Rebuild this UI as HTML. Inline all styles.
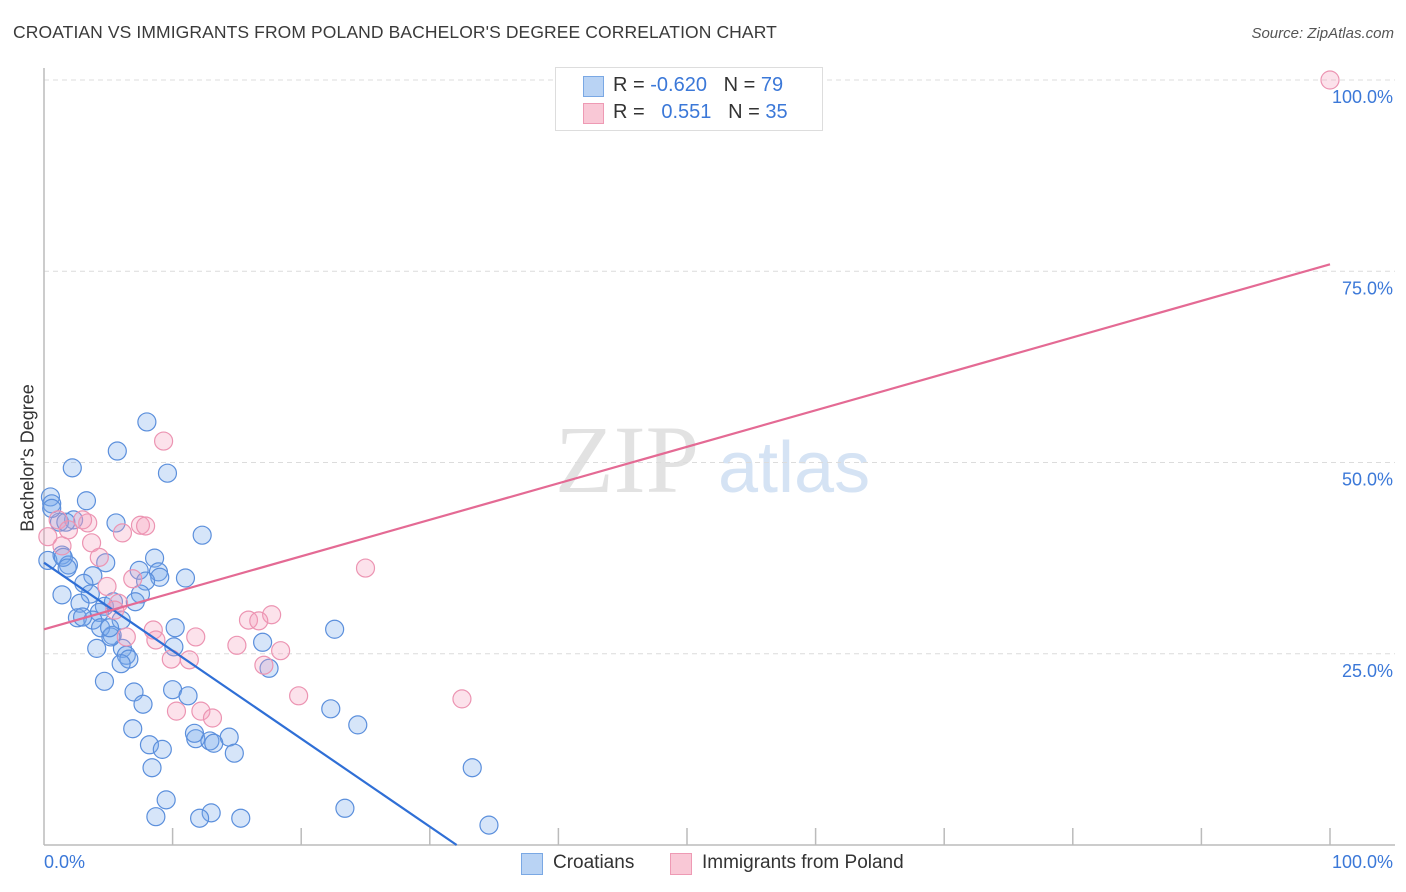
<!DOCTYPE html>
<html><head><meta charset="utf-8">
<style>
body{margin:0;background:#fff;font-family:"Liberation Sans",sans-serif;}
#wrap{position:relative;width:1406px;height:892px;overflow:hidden;}
.t{position:absolute;white-space:nowrap;}
</style></head>
<body>
<div id="wrap">
<div class="t" style="left:13px;top:22px;font-size:17.5px;color:#3a3a3a;letter-spacing:0.1px">CROATIAN VS IMMIGRANTS FROM POLAND BACHELOR'S DEGREE CORRELATION CHART</div>
<div class="t" style="right:12px;top:25px;font-size:15px;color:#555;font-style:italic">Source: ZipAtlas.com</div>
<svg id="svg" width="1406" height="892" style="position:absolute;left:0;top:0">
<text x="555" y="492" font-family="Liberation Serif,serif" font-size="96" fill="#e2e2e2">ZIP</text>
<text x="718" y="492" font-family="Liberation Sans,sans-serif" font-size="72" fill="#d5e3f4">atlas</text>
</svg>
<div style="position:absolute;left:555px;top:67px;width:266px;height:62px;border:1px solid #ddd;background:#fff;font-size:20px;color:#333">
 <div style="position:absolute;left:27px;top:8px;width:19px;height:19px;background:#b9d3f4;border:1px solid #7aa8e4"></div>
 <div class="t" style="left:57px;top:6px">R = <span style="color:#3b78d8">-0.620</span>&nbsp;&nbsp;&nbsp;N = <span style="color:#3b78d8">79</span></div>
 <div style="position:absolute;left:27px;top:35px;width:19px;height:19px;background:#f9c8d6;border:1px solid #ee9ab4"></div>
 <div class="t" style="left:57px;top:33px">R = &nbsp;&nbsp;<span style="color:#3b78d8">0.551</span>&nbsp;&nbsp;&nbsp;N = <span style="color:#3b78d8">35</span></div>
</div>
<div class="t" style="left:28px;top:458px;font-size:18px;color:#333;transform:translate(-50%,-50%) rotate(-90deg)">Bachelor's Degree</div>
<div class="t" style="left:44px;top:852px;font-size:18px;color:#3b78d8">0.0%</div>
<div class="t" style="right:13px;top:852px;font-size:18px;color:#3b78d8">100.0%</div>
<div style="position:absolute;left:521px;top:853px;width:20px;height:20px;background:#b9d3f4;border:1px solid #7aa8e4"></div>
<div class="t" style="left:553px;top:852px;font-size:19px;color:#333">Croatians</div>
<div style="position:absolute;left:670px;top:853px;width:20px;height:20px;background:#f9c8d6;border:1px solid #ee9ab4"></div>
<div class="t" style="left:702px;top:852px;font-size:19px;color:#333">Immigrants from Poland</div>
</div>
<script>
const blueX=[8.0,5.7,2.2,9.6,3.3,0.5,0.6,5.6,2.3,1.2,1.7,12.3,1.4,1.9,8.6,3.8,7.4,8.9,9.0,4.8,7.9,3.1,1.4,7.5,3.6,2.8,4.7,2.6,4.3,5.4,7.1,3.8,3.0,6.0,5.3,4.4,10.2,4.1,6.1,5.2,6.4,6.6,6.0,10.1,17.0,22.6,4.7,7.0,10.0,11.2,17.5,7.7,6.9,8.2,9.2,11.8,12.9,14.4,13.2,14.8,11.7,8.4,22.3,24.4,33.3,9.5,13.0,8.7,12.1,15.3,23.4,34.6,0.6,0.3,1.5,1.8,11.0,5.1];
const blueY=[55.3,51.5,49.3,48.6,45.0,45.5,44.6,42.1,42.5,42.2,42.2,40.5,37.9,36.6,37.5,35.2,35.9,35.7,35.0,36.9,34.5,34.2,32.7,32.8,32.8,31.6,31.2,29.7,30.4,31.8,31.8,29.4,29.8,29.4,27.4,28.4,28.4,25.7,25.7,27.2,24.8,24.3,23.7,25.9,26.5,28.2,21.4,20.0,20.3,19.5,23.1,18.4,15.2,13.1,12.5,13.9,13.6,14.1,13.3,12.0,14.6,10.1,17.8,15.7,10.1,5.9,4.2,3.7,3.5,3.5,4.8,2.6,44.0,37.2,37.6,36.2,34.9,28.4];
const pinkX=[100,9.3,6.1,3.7,1.1,3.4,1.4,7.5,7.9,4.3,4.9,6.9,5.8,8.5,8.7,11.8,15.0,17.7,15.9,16.7,25.0,17.1,18.4,9.9,11.3,6.4,19.8,10.3,12.2,13.1,32.5,5.5,3.0,1.9,0.3];
const pinkY=[100,52.8,40.8,39.5,42.5,42.1,39.1,41.8,41.7,37.6,33.8,34.8,31.6,28.1,26.8,27.2,26.1,30.1,29.4,29.3,36.2,23.5,25.4,24.3,24.2,27.2,19.5,17.5,17.5,16.6,19.1,30.7,42.5,41.2,40.3];
const trendIntercept=[36.9,28.2];
const trendSlope=[-1.15,0.477];
const yTicks=[25,50,75,100];
const yTickLabels=["25.0%","50.0%","75.0%","100.0%"];
const xTicks=[10,20,30,40,50,60,70,80,90,100];

const X0=44,X1=1330,Y0=845,Y1=80;
const sx=v=>X0+(X1-X0)*v/100;
const sy=v=>Y0-(Y0-Y1)*v/100;
const NS="http://www.w3.org/2000/svg";
const svg=document.getElementById('svg');
function mk(tag,attrs){const e=document.createElementNS(NS,tag);for(const k in attrs)e.setAttribute(k,attrs[k]);svg.appendChild(e);return e;}
yTicks.forEach((t,i)=>{
  const g=mk('line',{x1:X0,x2:1395,y1:sy(t),y2:sy(t),stroke:'#dcdcdc','stroke-dasharray':'5,4','stroke-width':1});
  
  
  const tx=mk('text',{x:1393,y:sy(t)+23,'text-anchor':'end','font-size':18,fill:'#3b78d8','font-family':'Liberation Sans,sans-serif'});
  tx.textContent=yTickLabels[i];
  
  
});
const ax=mk('line',{x1:X0,x2:1395,y1:Y0,y2:Y0,stroke:'#bbb','stroke-width':1.5});


const ay=mk('line',{x1:X0,x2:X0,y1:68,y2:Y0,stroke:'#bbb','stroke-width':1.5});


xTicks.forEach(t=>{
  const l=mk('line',{x1:sx(t),x2:sx(t),y1:828,y2:Y0,stroke:'#bbb','stroke-width':1.5});
  
  
});
blueX.forEach((x,i)=>{
  const c=mk('circle',{cx:sx(x),cy:sy(blueY[i]),r:9,fill:'rgba(120,170,235,0.3)',stroke:'#5b8fdc','stroke-width':1.2});
  
  
});
pinkX.forEach((x,i)=>{
  const c=mk('circle',{cx:sx(x),cy:sy(pinkY[i]),r:9,fill:'rgba(245,160,190,0.3)',stroke:'#ec94b2','stroke-width':1.2});
  
  
});
// blue trend to y=0
const bEnd=-trendIntercept[0]/trendSlope[0];
const bl=mk('line',{x1:sx(0),y1:sy(trendIntercept[0]),x2:sx(bEnd),y2:sy(0),stroke:'#2f6fd6','stroke-width':2.2});


const pl=mk('line',{x1:sx(0),y1:sy(trendIntercept[1]),x2:sx(100),y2:sy(trendIntercept[1]+trendSlope[1]*100),stroke:'#e46a94','stroke-width':2.2});


</script>
</body></html>
